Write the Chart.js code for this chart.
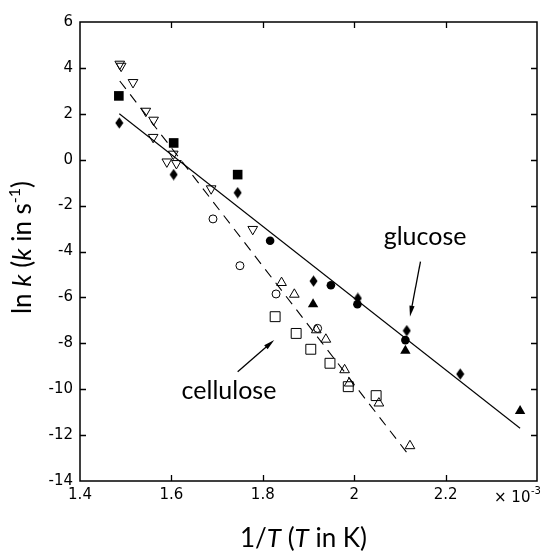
<!DOCTYPE html>
<html><head><meta charset="utf-8">
<script src="https://cdn.jsdelivr.net/npm/chart.js@4/dist/chart.umd.min.js"></script>
<style>html,body{margin:0;padding:0;background:#fff}#wrap{width:542px;height:552px}</style>
</head><body><div id="wrap"><canvas id="c" width="542" height="552"></canvas></div>
<script>
// ---- axis ranges / ticks (x in units of 1e-3 K^-1) ----
const xRange = [1.4, 2.4];
const yRange = [-14, 6];
const xStep = 0.2;
const yStep = 2;

// ---- glucose data (filled markers) ----
const glucoseSquares   = [{x:1.485,y:2.78},{x:1.605,y:0.73},{x:1.745,y:-0.65}];
const glucoseDiamonds  = [{x:1.486,y:1.60},{x:1.605,y:-0.65},{x:1.745,y:-1.44},{x:1.911,y:-5.29},{x:2.008,y:-6.04},{x:2.115,y:-7.45},{x:2.232,y:-9.34}];
const glucoseCircles   = [{x:1.816,y:-3.53},{x:1.949,y:-5.47},{x:2.007,y:-6.30},{x:2.112,y:-7.86}];
const glucoseTriangles = [{x:1.910,y:-6.30},{x:2.112,y:-8.32},{x:2.363,y:-10.95}];
const glucoseFit       = [{x:1.486,y:2.00},{x:2.363,y:-11.70}];

// ---- cellulose data (open markers) ----
const celluloseDownTri = [{x:1.487,y:4.17},{x:1.490,y:4.08},{x:1.516,y:3.37},{x:1.544,y:2.12},{x:1.561,y:1.73},{x:1.560,y:0.98},{x:1.604,y:0.25},{x:1.590,y:-0.09},{x:1.611,y:-0.16},{x:1.687,y:-1.26},{x:1.778,y:-3.03}];
const celluloseUpTri   = [{x:1.841,y:-5.36},{x:1.869,y:-5.87},{x:1.917,y:-7.42},{x:1.938,y:-7.83},{x:1.979,y:-9.16},{x:1.989,y:-9.74},{x:2.054,y:-10.61},{x:2.122,y:-12.47}];
const celluloseCircles = [{x:1.691,y:-2.58},{x:1.750,y:-4.62},{x:1.829,y:-5.85},{x:1.920,y:-7.35}];
const celluloseSquares = [{x:1.827,y:-6.84},{x:1.873,y:-7.57},{x:1.905,y:-8.26},{x:1.947,y:-8.87},{x:1.987,y:-9.89},{x:2.048,y:-10.28}];
const celluloseFit     = [{x:1.487,y:3.43},{x:2.122,y:-12.94}];

// ---- annotations (data coordinates) ----
const labelGlucose   = {text:'glucose',   x:2.155, y:-3.72};
const labelCellulose = {text:'cellulose', x:1.726, y:-10.43};
const arrowGlucose   = {from:{x:2.145,y:-4.44}, to:{x:2.122,y:-6.84}};
const arrowCellulose = {from:{x:1.745,y:-9.24}, to:{x:1.825,y:-7.86}};

// narrow diamond marker
const diamond = document.createElement('canvas');
diamond.width = 9; diamond.height = 12;
(function(){const g=diamond.getContext('2d');g.fillStyle='#000';g.beginPath();g.moveTo(4.5,0.3);g.lineTo(8.5,6);g.lineTo(4.5,11.7);g.lineTo(0.5,6);g.closePath();g.fill();})();

const TITLE_FONT = 'Lato, "Open Sans", sans-serif';

function drawRich(ctx, segs, cx, cy, angle){
  ctx.save(); ctx.translate(cx, cy); ctx.rotate(angle);
  let total = 0;
  segs.forEach(s=>{ctx.font=s.font; s.w=ctx.measureText(s.t).width; total+=s.w;});
  let x = -total/2;
  ctx.textAlign='left'; ctx.textBaseline='alphabetic'; ctx.fillStyle='#000';
  segs.forEach(s=>{ctx.font=s.font; ctx.fillText(s.t, x, s.dy||0); x+=s.w;});
  ctx.restore();
}
function arrow(ctx, x1,y1,x2,y2){
  const a=Math.atan2(y2-y1,x2-x1), L=11, W=2.6;
  ctx.save(); ctx.strokeStyle='#000'; ctx.fillStyle='#000'; ctx.lineWidth=1.3;
  ctx.beginPath(); ctx.moveTo(x1,y1); ctx.lineTo(x2-Math.cos(a)*L*0.8,y2-Math.sin(a)*L*0.8); ctx.stroke();
  ctx.beginPath(); ctx.moveTo(x2,y2);
  ctx.lineTo(x2-Math.cos(a)*L+Math.sin(a)*W, y2-Math.sin(a)*L-Math.cos(a)*W);
  ctx.lineTo(x2-Math.cos(a)*L-Math.sin(a)*W, y2-Math.sin(a)*L+Math.cos(a)*W);
  ctx.closePath(); ctx.fill(); ctx.restore();
}

const framePlugin = {
  id:'frame',
  afterDraw(chart){
    const ctx=chart.ctx, a=chart.chartArea, xs=chart.scales.x, ys=chart.scales.y;
    ctx.save();
    ctx.strokeStyle='#000'; ctx.lineWidth=1.5;
    ctx.strokeRect(a.left, a.top, a.right-a.left, a.bottom-a.top);
    ctx.lineWidth=1.3;
    ctx.beginPath();
    for(let v=xRange[0]+xStep; v<xRange[1]-1e-6; v+=xStep){
      const px=Math.round(xs.getPixelForValue(v))+0.5;
      ctx.moveTo(px,a.bottom); ctx.lineTo(px,a.bottom-6);
      ctx.moveTo(px,a.top); ctx.lineTo(px,a.top+6);
    }
    for(let v=yRange[0]+yStep; v<yRange[1]-1e-6; v+=yStep){
      const py=Math.round(ys.getPixelForValue(v))+0.5;
      ctx.moveTo(a.left,py); ctx.lineTo(a.left+6,py);
      ctx.moveTo(a.right,py); ctx.lineTo(a.right-6,py);
    }
    ctx.stroke();
    // x exponent
    ctx.fillStyle='#000'; ctx.textBaseline='alphabetic'; ctx.textAlign='left';
    ctx.font='15px "DejaVu Sans"';
    const ex = a.right-43, ey = a.bottom+21;
    ctx.fillText('\u00d7 10', ex, ey);
    const w = ctx.measureText('\u00d7 10').width;
    ctx.font='10px "DejaVu Sans"';
    ctx.fillText('-3', ex+w+0.5, ey-8);
    // axis titles
    const f='26px '+TITLE_FONT, fi='italic 26px '+TITLE_FONT, fs='16px '+TITLE_FONT;
    drawRich(ctx,[{t:'1/',font:f},{t:'T',font:fi},{t:' (',font:f},{t:'T',font:fi},{t:' in K)',font:f}],(a.left+a.right)/2-5,547,0);
    drawRich(ctx,[{t:'ln ',font:f},{t:'k',font:fi},{t:' (',font:f},{t:'k',font:fi},{t:' in s',font:f},{t:'-1',font:fs,dy:-11},{t:')',font:f}],31,(a.top+a.bottom)/2-4,-Math.PI/2);
    // annotations
    ctx.font='25px '+TITLE_FONT; ctx.textAlign='center'; ctx.fillStyle='#000';
    [labelGlucose,labelCellulose].forEach(l=>ctx.fillText(l.text, xs.getPixelForValue(l.x), ys.getPixelForValue(l.y)));
    [arrowGlucose,arrowCellulose].forEach(r=>arrow(ctx, xs.getPixelForValue(r.from.x), ys.getPixelForValue(r.from.y), xs.getPixelForValue(r.to.x), ys.getPixelForValue(r.to.y)));
    ctx.restore();
  }
};

function pts(data, style, filled, radius, rotation){
  return {data, showLine:false, pointStyle:style, pointRadius:radius, pointHoverRadius:radius,
    pointRotation:rotation||0, backgroundColor: filled?'#000':'rgba(0,0,0,0)', borderColor:'#000',
    pointBorderWidth: filled?0:1};
}

Chart.defaults.font.family='"DejaVu Sans", sans-serif';
Chart.defaults.color='#000';

new Chart(document.getElementById('c'), {
  type:'scatter',
  data:{datasets:[
    {data:glucoseFit, showLine:true, borderColor:'#000', borderWidth:1.1, pointRadius:0, fill:false},
    {data:celluloseFit, showLine:true, borderColor:'#000', borderWidth:1.1, borderDash:[10,7], pointRadius:0, fill:false},
    pts(glucoseSquares,'rect',true,6.8),
    pts(glucoseDiamonds,diamond,true,6),
    pts(glucoseCircles,'circle',true,4.3),
    pts(glucoseTriangles,'triangle',true,6),
    pts(celluloseDownTri,'triangle',false,5.6,180),
    pts(celluloseUpTri,'triangle',false,5.6),
    pts(celluloseCircles,'circle',false,4),
    pts(celluloseSquares,'rect',false,7)
  ]},
  options:{
    responsive:false, animation:false, devicePixelRatio:1,
    layout:{autoPadding:false, padding:{left:0,right:4,top:22,bottom:0}},
    plugins:{legend:{display:false}, tooltip:{enabled:false}},
    scales:{
      x:{type:'linear', min:xRange[0], max:xRange[1],
         afterFit(s){s.height=71;},
         border:{display:false},
         grid:{display:false, drawTicks:false},
         ticks:{stepSize:xStep, padding:5, font:{size:15}, maxRotation:0,
           callback:(v)=> v>=xRange[1]-1e-6 ? '' : String(Math.round(v*10)/10)}},
      y:{type:'linear', min:yRange[0], max:yRange[1],
         afterFit(s){s.width=80;},
         border:{display:false},
         grid:{display:false, drawTicks:false},
         ticks:{stepSize:yStep, padding:7, font:{size:15},
           callback:(v)=> String(v)}}
    }
  },
  plugins:[framePlugin]
});
</script></body></html>
